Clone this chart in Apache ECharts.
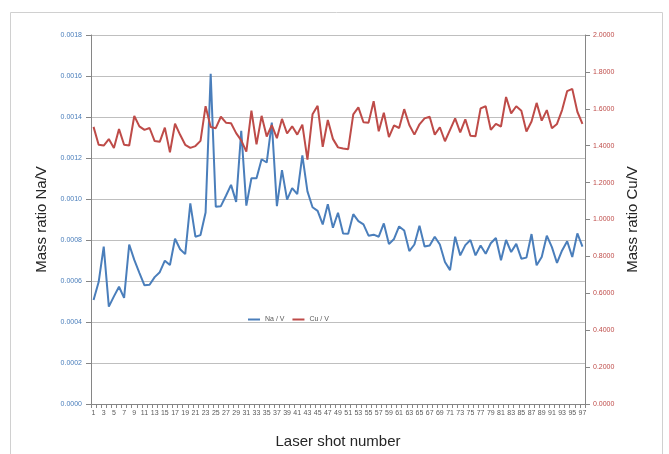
<!DOCTYPE html>
<html>
<head>
<meta charset="utf-8">
<style>
  html, body { margin: 0; padding: 0; background: #fff; }
  #chart { width: 669px; height: 454px; }
</style>
<script src="https://cdn.jsdelivr.net/npm/echarts@6/dist/echarts.min.js"></script>
</head>
<body>
<div id="chart"></div>
<script>
// Laser shot numbers 1..97
const shots = [];
for (let i = 1; i <= 97; i++) shots.push(String(i));

// Na/V mass ratio per shot
const naV = [
  0.000507, 0.000595, 0.000768, 0.000475, 0.000525, 0.000572, 0.000518, 0.000778, 0.000703, 0.000640,
  0.000579, 0.000582, 0.000619, 0.000643, 0.000699, 0.000678, 0.000806, 0.000755, 0.000731, 0.000979,
  0.000816, 0.000824, 0.000934, 0.001611, 0.000962, 0.000965, 0.001016, 0.001069, 0.000986, 0.001333,
  0.000968, 0.001101, 0.001101, 0.001194, 0.001178, 0.001373, 0.000965, 0.001141, 0.000997, 0.001053,
  0.001024, 0.001213, 0.001037, 0.000960, 0.000942, 0.000876, 0.000975, 0.000860, 0.000933, 0.000832,
  0.000830, 0.000926, 0.000892, 0.000876, 0.000821, 0.000826, 0.000816, 0.000881, 0.000780, 0.000805,
  0.000866, 0.000846, 0.000746, 0.000778, 0.000869, 0.000768, 0.000773, 0.000816, 0.000778, 0.000693,
  0.000653, 0.000816, 0.000725, 0.000775, 0.000800, 0.000725, 0.000773, 0.000733, 0.000784, 0.000810,
  0.000701, 0.000800, 0.000741, 0.000781, 0.000709, 0.000714, 0.000829, 0.000677, 0.000717, 0.000821,
  0.000765, 0.000688, 0.000749, 0.000794, 0.000717, 0.000832, 0.000768
];

// Cu/V mass ratio per shot
const cuV = [
  1.502, 1.405, 1.401, 1.436, 1.388, 1.490, 1.405, 1.401, 1.561, 1.505,
  1.486, 1.496, 1.425, 1.421, 1.498, 1.364, 1.519, 1.459, 1.405, 1.388,
  1.398, 1.426, 1.614, 1.501, 1.495, 1.557, 1.525, 1.522, 1.468, 1.429,
  1.368, 1.590, 1.407, 1.562, 1.450, 1.512, 1.441, 1.545, 1.466, 1.505,
  1.460, 1.514, 1.325, 1.570, 1.616, 1.394, 1.539, 1.437, 1.391, 1.385,
  1.381, 1.570, 1.608, 1.527, 1.525, 1.641, 1.478, 1.579, 1.447, 1.510,
  1.496, 1.598, 1.512, 1.460, 1.516, 1.548, 1.557, 1.460, 1.500, 1.424,
  1.486, 1.548, 1.472, 1.543, 1.454, 1.451, 1.602, 1.614, 1.486, 1.518,
  1.504, 1.664, 1.575, 1.614, 1.589, 1.477, 1.531, 1.632, 1.536, 1.593,
  1.495, 1.518, 1.593, 1.696, 1.708, 1.584, 1.518
];

const seriesNames = ['Na / V', 'Cu / V'];
const blue = '#4a7ebb';
const red = '#be4b48';
const font = '"Liberation Sans", Arial, sans-serif';

const chart = echarts.init(document.getElementById('chart'), null, { renderer: 'canvas' });
chart.setOption({
  animation: false,
  backgroundColor: '#fff',
  graphic: [{
    type: 'rect',
    shape: { x: 10.5, y: 12.5, width: 652, height: 460 },
    style: { fill: 'none', stroke: '#d0d0d0', lineWidth: 1 },
    silent: true,
    z: -1
  }],
  grid: { left: 91, right: 84, top: 35, bottom: 44, containLabel: false },
  legend: {
    left: 243, top: 311,
    itemWidth: 12, itemHeight: 2, itemGap: 8,
    icon: 'rect',
    textStyle: { fontFamily: font, fontSize: 7, color: '#595959' },
    data: seriesNames
  },
  xAxis: {
    type: 'category',
    data: shots,
    boundaryGap: true,
    name: 'Laser shot number',
    nameLocation: 'middle',
    nameGap: 30,
    nameTextStyle: { fontFamily: font, fontSize: 15, color: '#262626' },
    axisLine: { lineStyle: { color: '#868686', width: 1 } },
    axisTick: { show: true, interval: 0, alignWithLabel: false, length: 4, lineStyle: { color: '#868686' } },
    axisLabel: { interval: 1, fontFamily: font, fontSize: 7, color: '#595959', margin: 6 },
    splitLine: { show: false }
  },
  yAxis: [{
    type: 'value',
    min: 0, max: 0.0018, interval: 0.0002,
    name: 'Mass ratio Na/V',
    nameLocation: 'middle',
    nameGap: 40,
    nameRotate: 90,
    nameTextStyle: { fontFamily: font, fontSize: 15, color: '#262626' },
    axisLine: { show: true, lineStyle: { color: '#868686' } },
    axisTick: { show: true, length: 5, lineStyle: { color: '#868686' } },
    axisLabel: {
      fontFamily: font, fontSize: 7, color: blue, margin: 9,
      formatter: v => v.toFixed(4)
    },
    splitLine: { show: true, lineStyle: { color: '#bfbfbf', width: 1 } }
  }, {
    type: 'value',
    min: 0, max: 2, interval: 0.2,
    name: 'Mass ratio Cu/V',
    nameLocation: 'middle',
    nameGap: 33,
    nameRotate: 90,
    nameTextStyle: { fontFamily: font, fontSize: 15, color: '#262626' },
    axisLine: { show: true, lineStyle: { color: '#868686' } },
    axisTick: { show: true, length: 5, lineStyle: { color: '#868686' } },
    axisLabel: {
      fontFamily: font, fontSize: 7, color: red, margin: 8,
      formatter: v => v.toFixed(4)
    },
    splitLine: { show: false }
  }],
  series: [{
    name: seriesNames[0],
    type: 'line',
    yAxisIndex: 0,
    data: naV,
    showSymbol: false,
    symbol: 'none',
    lineStyle: { color: blue, width: 2 },
    itemStyle: { color: blue }
  }, {
    name: seriesNames[1],
    type: 'line',
    yAxisIndex: 1,
    data: cuV,
    showSymbol: false,
    symbol: 'none',
    lineStyle: { color: red, width: 2 },
    itemStyle: { color: red }
  }]
});
</script>
</body>
</html>
